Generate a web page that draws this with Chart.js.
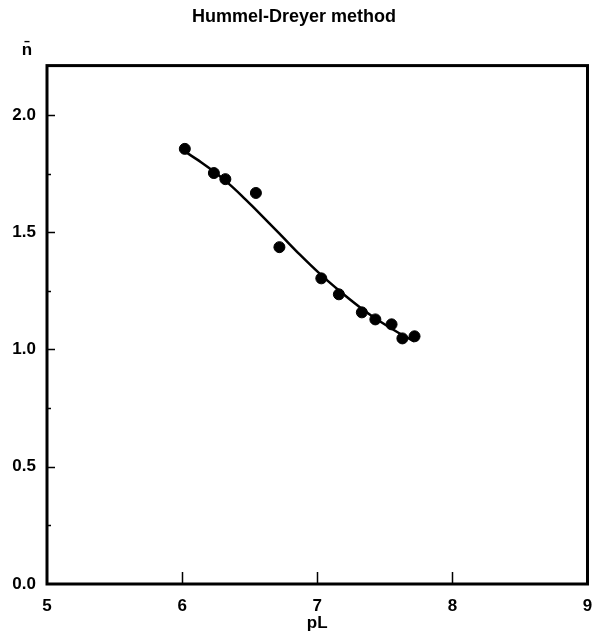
<!DOCTYPE html>
<html>
<head>
<meta charset="utf-8">
<title>Hummel-Dreyer method</title>
<script src="https://cdn.jsdelivr.net/npm/chart.js@4/dist/chart.umd.min.js"></script>
<style>
    html, body { margin: 0; padding: 0; background: #fff; }
    #wrap { width: 594px; height: 636px; }
</style>
</head>
<body>
<div id="wrap"><canvas id="chart"></canvas></div>
<script>
// measured points
const pL   = [6.02, 6.235, 6.32, 6.546, 6.72, 7.03, 7.16, 7.33, 7.43, 7.55, 7.63, 7.72];
const nBar = [1.855, 1.752, 1.726, 1.667, 1.436, 1.303, 1.235, 1.158, 1.128, 1.107, 1.047, 1.056];

// fitted curve
const fitX = [6.03, 6.14, 6.24, 6.34, 6.44, 6.54, 6.64, 6.74, 6.87, 7.02, 7.17, 7.32, 7.46, 7.61, 7.72];
const fitY = [1.840, 1.798, 1.756, 1.709, 1.656, 1.599, 1.541, 1.482, 1.405, 1.322, 1.247, 1.178, 1.121, 1.068, 1.034];

const xTicks      = [5, 6, 7, 8, 9];
const yTicks      = [0, 0.5, 1.0, 1.5, 2.0];
const yMinorTicks = [0.25, 0.75, 1.25, 1.75];

const FONT = "'Liberation Sans', Arial, Helvetica, sans-serif";

const toPoints = (xs, ys) => xs.map((x, i) => ({ x: x, y: ys[i] }));

// frame, inward ticks and the y-axis symbol
const framePlugin = {
    id: 'frame',
    afterDraw(chart) {
        const { ctx, chartArea: a, scales: { x, y } } = chart;
        ctx.save();
        ctx.strokeStyle = '#000';
        ctx.lineWidth = 3;
        ctx.strokeRect(a.left, a.top, a.right - a.left, a.bottom - a.top);

        ctx.lineWidth = 1.5;
        ctx.beginPath();
        xTicks.slice(1, -1).forEach(v => {
            const px = Math.round(x.getPixelForValue(v)) + 0.5;
            ctx.moveTo(px, a.bottom);
            ctx.lineTo(px, a.bottom - 12);
        });
        yTicks.slice(1).forEach(v => {
            const py = Math.round(y.getPixelForValue(v)) + 0.5;
            ctx.moveTo(a.left, py);
            ctx.lineTo(a.left + 8, py);
        });
        yMinorTicks.forEach(v => {
            const py = Math.round(y.getPixelForValue(v)) + 0.5;
            ctx.moveTo(a.left, py);
            ctx.lineTo(a.left + 4, py);
        });
        ctx.stroke();

        ctx.fillStyle = '#000';
        ctx.font = 'bold 17px ' + FONT;
        ctx.textAlign = 'center';
        ctx.textBaseline = 'middle';
        ctx.fillText('n\u0304', 27, 50);
        ctx.restore();
    }
};

new Chart(document.getElementById('chart'), {
    type: 'scatter',
    data: {
        datasets: [{
            label: 'data',
            data: toPoints(pL, nBar),
            backgroundColor: '#000',
            borderColor: '#000',
            pointRadius: 5.5,
            pointHoverRadius: 5.5
        }, {
            label: 'fit',
            data: toPoints(fitX, fitY),
            showLine: true,
            borderColor: '#000',
            borderWidth: 2.5,
            pointRadius: 0,
            cubicInterpolationMode: 'monotone'
        }]
    },
    options: {
        responsive: true,
        maintainAspectRatio: false,
        animation: false,
        events: [],
        layout: { padding: { left: 0, right: 6, top: 0, bottom: 0 } },
        plugins: {
            legend: { display: false },
            tooltip: { enabled: false },
            title: {
                display: true,
                text: 'Hummel-Dreyer method',
                color: '#000',
                font: { family: FONT, size: 18, weight: 'bold' },
                padding: { top: 6, bottom: 38 }
            }
        },
        scales: {
            x: {
                type: 'linear',
                min: 5,
                max: 9,
                grid: { display: false, drawTicks: false },
                border: { display: false },
                afterBuildTicks: s => { s.ticks = xTicks.map(v => ({ value: v })); },
                afterFit: s => {
                    s.height = 52;
                    s.paddingLeft = 0;
                    s.paddingRight = 0;
                },
                ticks: {
                    color: '#000',
                    padding: 12,
                    maxRotation: 0,
                    font: { family: FONT, size: 17, weight: 'bold' }
                },
                title: {
                    display: true,
                    text: 'pL',
                    color: '#000',
                    padding: { top: 0, bottom: 2 },
                    font: { family: FONT, size: 17, weight: 'bold' }
                }
            },
            y: {
                type: 'linear',
                min: 0,
                max: 2.21,
                grid: { display: false, drawTicks: false },
                border: { display: false },
                afterBuildTicks: s => { s.ticks = yTicks.map(v => ({ value: v })); },
                afterFit: s => {
                    s.width = 47;
                    s.paddingTop = 0;
                    s.paddingBottom = 0;
                },
                ticks: {
                    color: '#000',
                    padding: 11,
                    font: { family: FONT, size: 17, weight: 'bold' },
                    callback: v => v.toFixed(1)
                }
            }
        }
    },
    plugins: [framePlugin]
});
</script>
</body>
</html>
